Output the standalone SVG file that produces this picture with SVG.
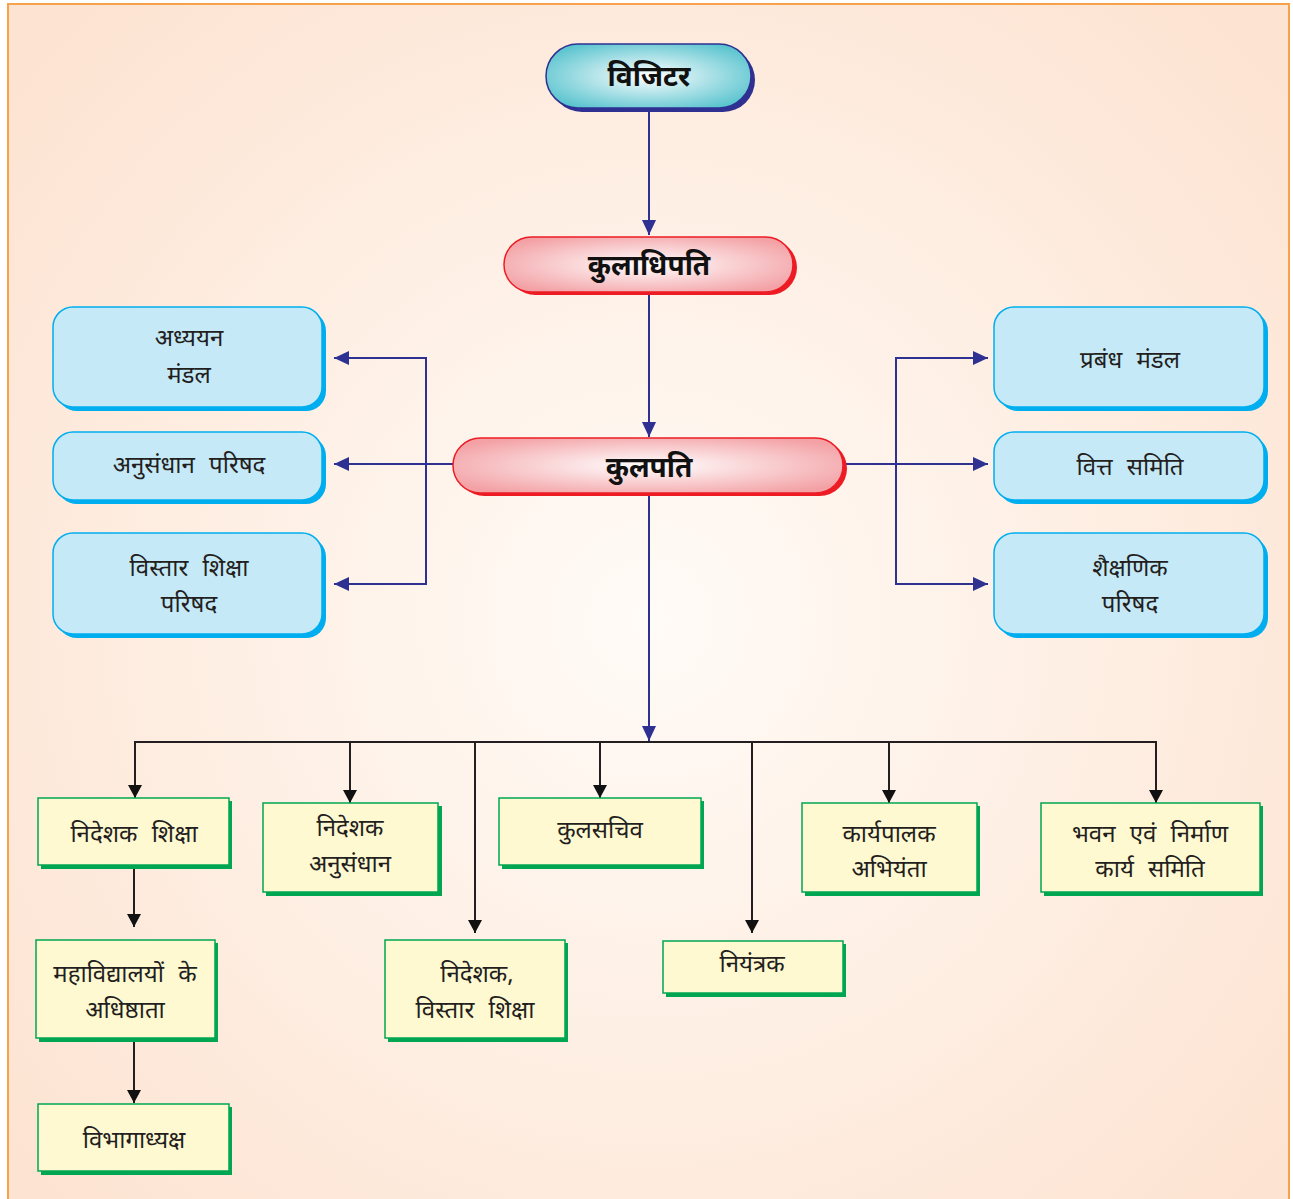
<svg xmlns="http://www.w3.org/2000/svg" width="1293" height="1199" viewBox="0 0 1293 1199">
<style>
  .t { font-family: "Noto Sans", "Liberation Sans", sans-serif; font-size: 24px; word-spacing: 8px; fill: #231f20; text-anchor: middle; }
  .tb { font-family: "Noto Sans", "Liberation Sans", sans-serif; font-size: 28px; font-weight: bold; fill: #111; text-anchor: middle; }
  .bl { fill: none; stroke: #2e3192; stroke-width: 2; }
  .bk { fill: none; stroke: #231f20; stroke-width: 2; }
  .gsh { fill: #00a651; }
  .gbox { fill: #fff9d2; stroke: #00a651; stroke-width: 1.5; }
  .bsh { fill: #00aeef; }
  .bbox { fill: #c6e9f8; stroke: #00aeef; stroke-width: 1.5; }
</style>
<defs>
  <radialGradient id="bg" cx="650" cy="620" r="850" gradientUnits="userSpaceOnUse">
    <stop offset="0" stop-color="#fffbf7"/>
    <stop offset="1" stop-color="#fde3d1"/>
  </radialGradient>
  <radialGradient id="teal" cx="0.5" cy="0.5" r="0.6">
    <stop offset="0" stop-color="#ffffff"/>
    <stop offset="1" stop-color="#58c3ce"/>
  </radialGradient>
  <radialGradient id="red" cx="0.5" cy="0.5" r="0.6">
    <stop offset="0" stop-color="#ffffff"/>
    <stop offset="1" stop-color="#f3a1a5"/>
  </radialGradient>
  <marker id="ab" markerUnits="userSpaceOnUse" markerWidth="16" markerHeight="14" refX="15" refY="7" orient="auto-start-reverse">
    <path d="M0,0 L15,7 L0,14 Z" fill="#2e3192"/>
  </marker>
  <marker id="ak" markerUnits="userSpaceOnUse" markerWidth="14" markerHeight="14" refX="13" refY="7" orient="auto">
    <path d="M0,0 L13,7 L0,14 Z" fill="#111"/>
  </marker>
</defs>

<rect x="0" y="0" width="1293" height="1199" fill="#ffffff"/>
<rect x="8" y="4" width="1281" height="1210" fill="url(#bg)" stroke="#f7a24a" stroke-width="2"/>

<g id="connectors">
  <path class="bl" d="M649,110 V235" marker-end="url(#ab)"/>
  <path class="bl" d="M649,291 V437" marker-end="url(#ab)"/>
  <path class="bl" d="M454,464 H334" marker-end="url(#ab)"/>
  <path class="bl" d="M334,358 H426 V584 H334" marker-start="url(#ab)" marker-end="url(#ab)"/>
  <path class="bl" d="M843,464 H988" marker-end="url(#ab)"/>
  <path class="bl" d="M988,358 H896 V584 H988" marker-start="url(#ab)" marker-end="url(#ab)"/>
  <path class="bl" d="M649,493 V741" marker-end="url(#ab)"/>
  <path class="bk" d="M135,742 H1156"/>
  <path class="bk" d="M135,741 V798" marker-end="url(#ak)"/>
  <path class="bk" d="M350,742 V803" marker-end="url(#ak)"/>
  <path class="bk" d="M475,742 V933" marker-end="url(#ak)"/>
  <path class="bk" d="M600,742 V798" marker-end="url(#ak)"/>
  <path class="bk" d="M752,742 V933" marker-end="url(#ak)"/>
  <path class="bk" d="M889,742 V803" marker-end="url(#ak)"/>
  <path class="bk" d="M1156,741 V803" marker-end="url(#ak)"/>
  <path class="bk" d="M134,866 V927" marker-end="url(#ak)"/>
  <path class="bk" d="M134,1038 V1103" marker-end="url(#ak)"/>
</g>

<g id="visitor">
  <rect x="550" y="48" width="205" height="64" rx="32" fill="#2e3192"/>
  <rect x="546" y="44" width="205" height="64" rx="32" fill="url(#teal)" stroke="#2e3192" stroke-width="1.5"/>
  <text class="tb" x="649" y="86">विजिटर</text>
</g>

<g id="kuladhipati">
  <rect x="508" y="240" width="289" height="55" rx="27.5" fill="#ed1c24"/>
  <rect x="504" y="237" width="289" height="55" rx="27.5" fill="url(#red)" stroke="#ed1c24" stroke-width="1.5"/>
  <text class="tb" x="649" y="275">कुलाधिपति</text>
</g>

<g id="kulpati">
  <rect x="457" y="441" width="390" height="55" rx="27.5" fill="#ed1c24"/>
  <rect x="453" y="438" width="390" height="55" rx="27.5" fill="url(#red)" stroke="#ed1c24" stroke-width="1.5"/>
  <text class="tb" x="649" y="477">कुलपति</text>
</g>

<g id="adhyayan-mandal">
  <rect class="bsh" x="57" y="311" width="269" height="100" rx="20"/>
  <rect class="bbox" x="53" y="307" width="269" height="100" rx="20"/>
  <text class="t" x="189" y="346">अध्ययन</text>
  <text class="t" x="189" y="383">मंडल</text>
</g>
<g id="anusandhan-parishad">
  <rect class="bsh" x="57" y="436" width="269" height="68" rx="20"/>
  <rect class="bbox" x="53" y="432" width="269" height="68" rx="20"/>
  <text class="t" x="189" y="473">अनुसंधान परिषद</text>
</g>
<g id="vistar-shiksha-parishad">
  <rect class="bsh" x="57" y="537" width="269" height="101" rx="20"/>
  <rect class="bbox" x="53" y="533" width="269" height="101" rx="20"/>
  <text class="t" x="189" y="576">विस्तार शिक्षा</text>
  <text class="t" x="189" y="612">परिषद</text>
</g>

<g id="prabandh-mandal">
  <rect class="bsh" x="998" y="311" width="270" height="100" rx="20"/>
  <rect class="bbox" x="994" y="307" width="270" height="100" rx="20"/>
  <text class="t" x="1130" y="368">प्रबंध मंडल</text>
</g>
<g id="vitt-samiti">
  <rect class="bsh" x="998" y="436" width="270" height="68" rx="20"/>
  <rect class="bbox" x="994" y="432" width="270" height="68" rx="20"/>
  <text class="t" x="1130" y="475">वित्त समिति</text>
</g>
<g id="shaikshanik-parishad">
  <rect class="bsh" x="998" y="537" width="270" height="101" rx="20"/>
  <rect class="bbox" x="994" y="533" width="270" height="101" rx="20"/>
  <text class="t" x="1130" y="576">शैक्षणिक</text>
  <text class="t" x="1130" y="612">परिषद</text>
</g>

<g id="nideshak-shiksha">
  <rect class="gsh" x="41" y="801" width="191" height="68"/>
  <rect class="gbox" x="38" y="798" width="191" height="67"/>
  <text class="t" x="134" y="842">निदेशक शिक्षा</text>
</g>
<g id="nideshak-anusandhan">
  <rect class="gsh" x="266" y="806" width="176" height="90"/>
  <rect class="gbox" x="263" y="803" width="175" height="89"/>
  <text class="t" x="350" y="836">निदेशक</text>
  <text class="t" x="350" y="872">अनुसंधान</text>
</g>
<g id="nideshak-vistar">
  <rect class="gsh" x="388" y="943" width="180" height="99"/>
  <rect class="gbox" x="385" y="940" width="180" height="98"/>
  <text class="t" x="477" y="982">निदेशक,</text>
  <text class="t" x="475" y="1018">विस्तार शिक्षा</text>
</g>
<g id="kulsachiv">
  <rect class="gsh" x="502" y="801" width="202" height="68"/>
  <rect class="gbox" x="499" y="798" width="202" height="67"/>
  <text class="t" x="600" y="838">कुलसचिव</text>
</g>
<g id="niyantrak">
  <rect class="gsh" x="666" y="944" width="180" height="53"/>
  <rect class="gbox" x="663" y="941" width="180" height="52"/>
  <text class="t" x="752" y="972">नियंत्रक</text>
</g>
<g id="karyapalak-abhiyanta">
  <rect class="gsh" x="805" y="806" width="175" height="90"/>
  <rect class="gbox" x="802" y="803" width="175" height="89"/>
  <text class="t" x="889" y="842">कार्यपालक</text>
  <text class="t" x="889" y="877">अभियंता</text>
</g>
<g id="bhavan-nirman">
  <rect class="gsh" x="1044" y="806" width="219" height="90"/>
  <rect class="gbox" x="1041" y="803" width="219" height="89"/>
  <text class="t" x="1150" y="842">भवन एवं निर्माण</text>
  <text class="t" x="1150" y="877">कार्य समिति</text>
</g>
<g id="mahavidyalay-adhishthata">
  <rect class="gsh" x="39" y="943" width="179" height="99"/>
  <rect class="gbox" x="36" y="940" width="179" height="98"/>
  <text class="t" x="125" y="982">महाविद्यालयों के</text>
  <text class="t" x="125" y="1018">अधिष्ठाता</text>
</g>
<g id="vibhagadhyaksh">
  <rect class="gsh" x="41" y="1107" width="191" height="68"/>
  <rect class="gbox" x="38" y="1104" width="191" height="67"/>
  <text class="t" x="134" y="1148">विभागाध्यक्ष</text>
</g>
</svg>
